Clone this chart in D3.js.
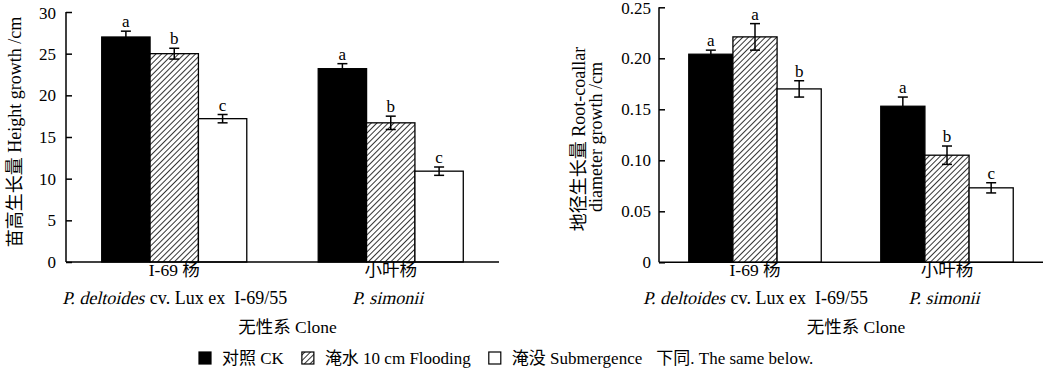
<!DOCTYPE html>
<html>
<head>
<meta charset="utf-8">
<script src="https://cdn.jsdelivr.net/npm/d3@7"></script>
<style>
  body { margin: 0; background: #fff; }
  svg text { font-family: "Liberation Serif", "Times New Roman", "Noto Sans CJK SC", serif; fill: #000; }
</style>
</head>
<body>
<svg id="chart" width="1048" height="370"></svg>
<script>
// clones (groups) and treatments (series)
const clones = ['I-69 杨', '小叶杨']
const cloneLatinItalic = ['P. deltoides', 'P. simonii']
const cloneLatinRest = [' cv. Lux ex  I-69/55', '']
const treatments = ['CK', 'Flooding', 'Submergence']
const legendLabels = ['对照 CK', '淹水 10 cm Flooding', '淹没 Submergence']

// height growth /cm  [clone][treatment]
const heightMean = [[27.0, 25.0, 17.2], [23.2, 16.7, 10.9]]
const heightErr = [[0.7, 0.65, 0.5], [0.6, 0.8, 0.5]]
const heightLetters = [['a', 'b', 'c'], ['a', 'b', 'c']]
const heightTicks = [0, 5, 10, 15, 20, 25, 30]

// root-collar diameter growth /cm
const diamMean = [[0.204, 0.221, 0.170], [0.153, 0.105, 0.073]]
const diamErr = [[0.004, 0.013, 0.008], [0.009, 0.009, 0.005]]
const diamLetters = [['a', 'a', 'b'], ['a', 'b', 'c']]
const diamTicks = [0, 0.05, 0.10, 0.15, 0.20, 0.25]

const svg = d3.select('#chart')

// hatch pattern for flooding
const defs = svg.append('defs')
defs.append('pattern')
  .attr('id', 'hatch')
  .attr('patternUnits', 'userSpaceOnUse')
  .attr('width', 4)
  .attr('height', 4)
  .attr('patternTransform', 'rotate(45)')
  .call(p => {
    p.append('rect').attr('width', 4).attr('height', 4).attr('fill', '#fff')
    p.append('line').attr('x1', 0).attr('y1', 0).attr('x2', 0).attr('y2', 4)
      .attr('stroke', '#000').attr('stroke-width', 1.6)
  })

const fills = ['#000', 'url(#hatch)', '#fff']

function drawPanel(opts) {
  const { x0, x1, yTop, yBottom, yMax, ticks, fmt, means, errs, letters, padInner, pad } = opts
  const g = svg.append('g')

  const x = d3.scaleBand().domain(clones).range([x0, x1]).paddingInner(padInner).paddingOuter(padInner / 2)
  const xs = d3.scaleBand().domain(treatments).range([0, x.bandwidth()])
  const y = d3.scaleLinear().domain([0, yMax]).range([yBottom, yTop])

  // bars
  clones.forEach((c, i) => {
    const grp = g.append('g').attr('transform', `translate(${x(c)},0)`)
    grp.selectAll('rect')
      .data(treatments)
      .join('rect')
      .attr('x', t => xs(t))
      .attr('y', (t, j) => y(means[i][j]))
      .attr('width', xs.bandwidth())
      .attr('height', (t, j) => yBottom - y(means[i][j]))
      .attr('fill', (t, j) => fills[j])
      .attr('stroke', '#000')
      .attr('stroke-width', 1.3)

    // error bars (lower half hidden inside the black bar)
    treatments.forEach((t, j) => {
      const cx = xs(t) + xs.bandwidth() / 2
      const hi = y(means[i][j] + errs[i][j])
      const lo = y(means[i][j] - errs[i][j])
      grp.append('line').attr('x1', cx).attr('x2', cx).attr('y1', hi).attr('y2', j === 0 ? y(means[i][j]) : lo)
        .attr('stroke', '#000').attr('stroke-width', 1.5)
      grp.append('line').attr('x1', cx - 5).attr('x2', cx + 5).attr('y1', hi).attr('y2', hi)
        .attr('stroke', '#000').attr('stroke-width', 1.5)
      if (j !== 0) {
        grp.append('line').attr('x1', cx - 5).attr('x2', cx + 5).attr('y1', lo).attr('y2', lo)
          .attr('stroke', '#000').attr('stroke-width', 1.5)
      }
      grp.append('text')
        .attr('x', cx)
        .attr('y', hi - 4)
        .attr('text-anchor', 'middle')
        .attr('font-size', 17)
        .text(letters[i][j])
    })
  })

  // y axis, ticks point inward
  const yAxis = g.append('g')
    .attr('transform', `translate(${x0},0)`)
    .call(d3.axisLeft(y).tickValues(ticks).tickFormat(fmt).tickSize(-6).tickPadding(pad))
  yAxis.select('.domain').attr('stroke-width', 1.5).attr('d', `M0,${yTop}V${yBottom}`)
  yAxis.selectAll('.tick line').attr('stroke-width', 1.5)
  yAxis.selectAll('.tick text').attr('font-size', 17).attr('font-family', '"Liberation Serif", serif')
  yAxis.select('.tick:last-of-type text').attr('dy', '0.38em')

  // x axis baseline (no ticks)
  g.append('line').attr('x1', x0).attr('x2', x1).attr('y1', yBottom).attr('y2', yBottom)
    .attr('stroke', '#000').attr('stroke-width', 1.5)

  // category labels; latin name is slanted regular serif, followed by upright rest
  clones.forEach((c, i) => {
    const cx = x(c) + x.bandwidth() / 2
    g.append('text').attr('x', cx).attr('y', 276).attr('text-anchor', 'middle')
      .attr('font-size', 17.5).text(c)
    const ital = g.append('text').attr('font-size', 18).text(cloneLatinItalic[i])
    const rest = g.append('text').attr('font-size', 18).attr('xml:space', 'preserve').text(cloneLatinRest[i])
    const wi = ital.node().getComputedTextLength()
    const wr = cloneLatinRest[i] ? rest.node().getComputedTextLength() : 0
    const sx = cx + (i === 0 ? 0 : -3) - (wi + wr) / 2
    ital.attr('transform', `translate(${sx},304) skewX(-14)`)
    rest.attr('x', sx + wi + 1).attr('y', 304)
  })

  g.append('text').attr('x', (x0 + x1) / 2 + 5).attr('y', 333).attr('text-anchor', 'middle')
    .attr('font-size', 17.5).text('无性系 Clone')

  return g
}

drawPanel({
  x0: 66, x1: 499, yTop: 12, yBottom: 262, yMax: 30,
  ticks: heightTicks, fmt: d3.format('d'),
  means: heightMean, errs: heightErr, letters: heightLetters, padInner: 0.33, pad: 10
})

drawPanel({
  x0: 659, x1: 1043, yTop: 7.3, yBottom: 262.3, yMax: 0.25,
  ticks: diamTicks, fmt: d => d === 0 ? '0' : d3.format('.2f')(d),
  means: diamMean, errs: diamErr, letters: diamLetters, padInner: 0.31, pad: 8
})

// y axis titles
svg.append('text')
  .attr('transform', 'translate(21,132) rotate(-90)')
  .attr('text-anchor', 'middle').attr('font-size', 18)
  .text('苗高生长量 Height growth /cm')
svg.append('text')
  .attr('transform', 'translate(585,139) rotate(-90)')
  .attr('text-anchor', 'middle').attr('font-size', 18)
  .text('地径生长量 Root-coallar')
svg.append('text')
  .attr('transform', 'translate(602,137) rotate(-90)')
  .attr('text-anchor', 'middle').attr('font-size', 18)
  .text('diameter growth /cm')

// legend, laid out from measured text widths
const legend = svg.append('g')
let lx = 199
legendLabels.forEach((label, i) => {
  legend.append('rect')
    .attr('x', lx).attr('y', 352).attr('width', 12).attr('height', 12)
    .attr('fill', fills[i]).attr('stroke', '#000').attr('stroke-width', 1.2)
  const t = legend.append('text')
    .attr('x', lx + 23).attr('y', 364).attr('font-size', 17)
    .text(label)
  lx += 23 + t.node().getComputedTextLength() + 18
})
legend.append('text')
  .attr('x', lx - 4).attr('y', 364).attr('font-size', 17)
  .text('下同. The same below.')
</script>
</body>
</html>
